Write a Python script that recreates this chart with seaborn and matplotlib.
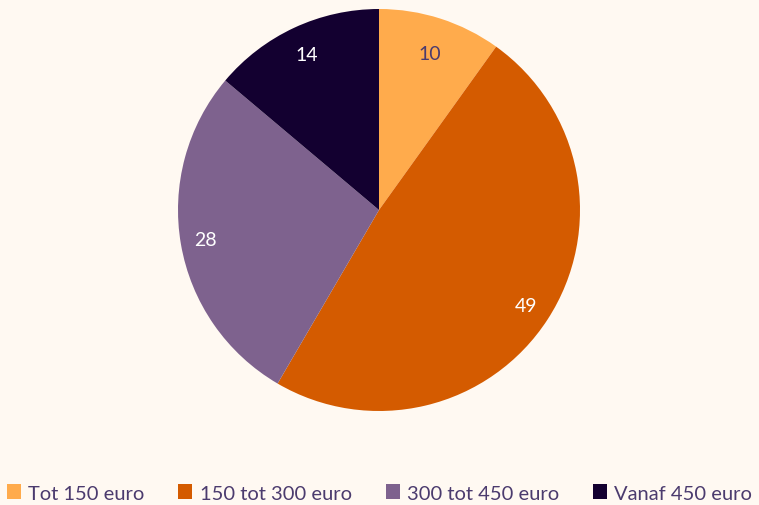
import matplotlib
matplotlib.use('Agg')
import numpy as np
import matplotlib.pyplot as plt
import seaborn as sns
from matplotlib.patches import Patch

# --- data ---
categorieen = ['Tot 150 euro', '150 tot 300 euro', '300 tot 450 euro', 'Vanaf 450 euro']
waarden = [10, 49, 28, 14]

kleuren = ['#FFAB4C', '#D45B00', '#7E628E', '#130030']
label_kleuren = ['#4B3B6E', 'white', 'white', 'white']
label_afstand = [0.82, 0.87, 0.875, 0.855]
bg = '#FFF9F2'
tekst = '#4B3B6E'

sns.set_theme(style='white')
plt.rcParams['font.family'] = ['Lato', 'DejaVu Sans']

fig = plt.figure(figsize=(7.59, 5.06), dpi=100, facecolor=bg)
# pie: center (379, 211), radius ~201 px
ax = fig.add_axes([(379 - 201) / 759, 1 - (211 + 201) / 506, 402 / 759, 402 / 506])
ax.set_facecolor(bg)

wedges, texts = ax.pie(
    waarden,
    labels=[str(v) for v in waarden],
    colors=kleuren,
    startangle=90,
    counterclock=False,
    labeldistance=0.85,
    wedgeprops=dict(linewidth=0),
    textprops=dict(fontsize=14, ha='center', va='center'),
)
for w, t, c, d in zip(wedges, texts, label_kleuren, label_afstand):
    hoek = np.deg2rad((w.theta1 + w.theta2) / 2)
    t.set_position((d * np.cos(hoek), d * np.sin(hoek)))
    t.set_color(c)
    t.set_ha('center')
    t.set_va('center')
ax.set_xlim(-1, 1)
ax.set_ylim(-1, 1)
ax.set_aspect('equal')
ax.axis('off')

handles = [Patch(facecolor=k, edgecolor='none') for k in kleuren]
leg = fig.legend(
    handles, categorieen,
    loc='center', bbox_to_anchor=(0.5, 1 - 494 / 506),
    ncol=4, frameon=False, fontsize=14.5,
    handlelength=0.7, handleheight=0.7, handletextpad=0.35,
    columnspacing=1.7, labelcolor=tekst,
)

fig.savefig('out.png', dpi=100, facecolor=bg)
